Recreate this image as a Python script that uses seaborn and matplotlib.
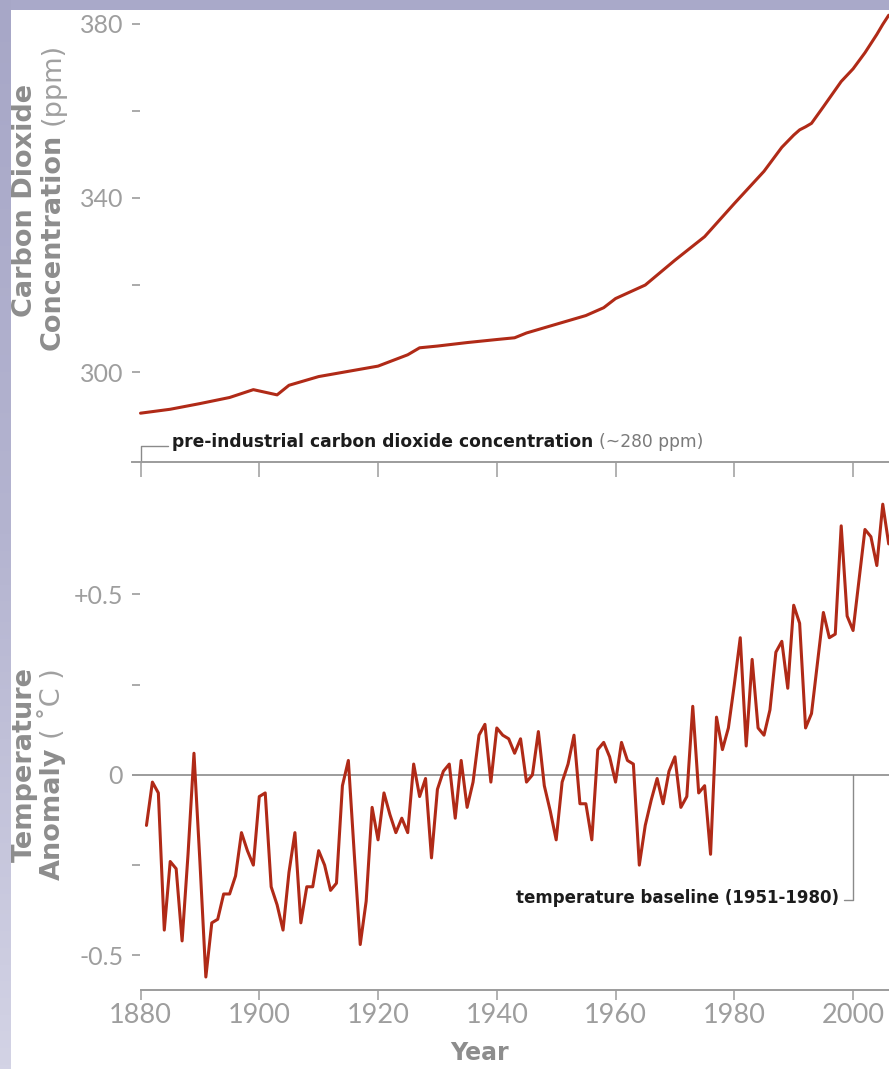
import numpy as np
import pandas as pd
import matplotlib
matplotlib.use("Agg")
import matplotlib.pyplot as plt
from matplotlib.patches import Rectangle
from matplotlib.colors import LinearSegmentedColormap
from matplotlib.ticker import FixedLocator, FixedFormatter, NullFormatter
import seaborn as sns

# --- data ---
co2_years = [1880, 1885, 1890, 1895, 1899, 1903, 1905, 1910, 1915, 1920,
             1925, 1927, 1930, 1935, 1940, 1943, 1945, 1950, 1955, 1958,
             1960, 1965, 1970, 1975, 1980, 1985, 1988, 1990, 1991, 1992,
             1993, 1995, 1998, 2000, 2002, 2004, 2005, 2006]
co2_ppm = [290.6, 291.5, 292.8, 294.2, 296.0, 294.8, 297.0, 299.0, 300.2, 301.4,
           304.0, 305.6, 306.0, 306.8, 307.5, 307.9, 309.0, 311.0, 313.0, 314.8,
           316.9, 320.0, 325.7, 331.1, 338.7, 346.1, 351.6, 354.4, 355.6, 356.3,
           357.1, 360.9, 366.7, 369.6, 373.3, 377.5, 379.8, 381.9]

temp_years = list(range(1881, 2007))
temp_anom = [
    -0.14, -0.02, -0.05, -0.43, -0.24, -0.26, -0.46, -0.22, 0.06, -0.24,   # 1881-1890
    -0.56, -0.41, -0.40, -0.33, -0.33, -0.28, -0.16, -0.21, -0.25, -0.06,  # 1891-1900
    -0.05, -0.31, -0.36, -0.43, -0.27, -0.16, -0.41, -0.31, -0.31, -0.21,  # 1901-1910
    -0.25, -0.32, -0.30, -0.03, 0.04, -0.22, -0.47, -0.35, -0.09, -0.18,   # 1911-1920
    -0.05, -0.11, -0.16, -0.12, -0.16, 0.03, -0.06, -0.01, -0.23, -0.04,   # 1921-1930
    0.01, 0.03, -0.12, 0.04, -0.09, -0.02, 0.11, 0.14, -0.02, 0.13,        # 1931-1940
    0.11, 0.10, 0.06, 0.10, -0.02, 0.00, 0.12, -0.03, -0.10, -0.18,        # 1941-1950
    -0.02, 0.03, 0.11, -0.08, -0.08, -0.18, 0.07, 0.09, 0.05, -0.02,       # 1951-1960
    0.09, 0.04, 0.03, -0.25, -0.14, -0.07, -0.01, -0.08, 0.01, 0.05,       # 1961-1970
    -0.09, -0.06, 0.19, -0.05, -0.03, -0.22, 0.16, 0.07, 0.13, 0.25,       # 1971-1980
    0.38, 0.08, 0.32, 0.13, 0.11, 0.18, 0.34, 0.37, 0.24, 0.47,            # 1981-1990
    0.42, 0.13, 0.17, 0.31, 0.45, 0.38, 0.39, 0.69, 0.44, 0.40,            # 1991-2000
    0.54, 0.68, 0.66, 0.58, 0.75, 0.64,                                    # 2001-2006
]

year_ticks = [1880, 1900, 1920, 1940, 1960, 1980, 2000]
year_labels = ["1880", "1900", "1920", "1940", "1960", "1980", "2000"]
co2_ticks = [300, 340, 380]
co2_labels = ["300", "340", "380"]
co2_minor = [320, 360]
temp_ticks = [-0.5, 0, 0.5]
temp_labels = ["-0.5", "0", "+0.5"]
temp_minor = [-0.25, 0.25]

co2_df = pd.DataFrame({"year": co2_years, "ppm": co2_ppm})
temp_df = pd.DataFrame({"year": temp_years, "anomaly": temp_anom})

sns.set_theme(style="white")
plt.rcParams["font.family"] = ["DejaVu Sans"]

W, H = 889, 1069
LINE = "#b02a17"
GRAY = "#9c9c9c"
LABEL_GRAY = "#8d8d8d"
TICK_FONT = ["Lato", "DejaVu Sans"]


def fx(px):
    return px / W


def fy(py):
    return 1 - py / H


fig = plt.figure(figsize=(W / 100, H / 100), dpi=100, facecolor="#a9a9c9")

# lavender frame: flat band on top, gradient strip on the left
strip = fig.add_axes([0, 0, fx(11), 1])
strip.imshow(np.linspace(0, 1, 256).reshape(-1, 1), aspect="auto",
             cmap=LinearSegmentedColormap.from_list("strip", ["#a7a7c7", "#b4b4d0", "#d3d3e5"]))
strip.axis("off")
fig.add_artist(Rectangle((fx(11), 0), 1, fy(10), transform=fig.transFigure,
                         facecolor="white", edgecolor="none", zorder=-1))

x_left = 1878.48
x_right = 2006.05

ax1 = fig.add_axes([fx(131.5), fy(462), fx(889 - 131.5), (462 - 10) / H])
ax2 = fig.add_axes([fx(131.5), fy(990), fx(889 - 131.5), (990 - 480) / H])

sns.lineplot(data=co2_df, x="year", y="ppm", ax=ax1, color=LINE, linewidth=2.2)
sns.lineplot(data=temp_df, x="year", y="anomaly", ax=ax2, color=LINE, linewidth=2.2)

ax1.set_ylim(279.4, 383.1)
ax2.set_ylim(-0.596, 0.817)

for ax in (ax1, ax2):
    ax.set_facecolor("none")
    ax.set_xlim(x_left, x_right)
    for side in ("top", "right", "left"):
        ax.spines[side].set_visible(False)
    ax.spines["bottom"].set_color(GRAY)
    ax.spines["bottom"].set_linewidth(1.4)
    ax.xaxis.set_major_locator(FixedLocator(year_ticks))
    ax.tick_params(axis="y", which="both", direction="in", length=5.8, width=1.2,
                   color=GRAY, left=True, pad=6, labelsize=18, labelcolor="#9e9e9e")
    ax.set_xlabel("")
    ax.set_ylabel("")

ax1.tick_params(axis="x", direction="out", length=10.5, width=1.1, color=GRAY,
                bottom=True, labelbottom=False)
ax2.tick_params(axis="x", direction="out", length=7.2, width=1.1, color=GRAY,
                bottom=True, pad=2, labelsize=19.5, labelcolor="#9e9e9e")
ax2.xaxis.set_major_formatter(FixedFormatter(year_labels))
ax2.spines["bottom"].set_bounds(1880, x_right)

ax1.yaxis.set_major_locator(FixedLocator(co2_ticks))
ax1.yaxis.set_major_formatter(FixedFormatter(co2_labels))
ax1.yaxis.set_minor_locator(FixedLocator(co2_minor))
ax1.yaxis.set_minor_formatter(NullFormatter())

ax2.yaxis.set_major_locator(FixedLocator(temp_ticks))
ax2.yaxis.set_major_formatter(FixedFormatter(temp_labels))
ax2.yaxis.set_minor_locator(FixedLocator(temp_minor))
ax2.yaxis.set_minor_formatter(NullFormatter())

for ax in (ax1, ax2):
    for lab in ax.get_xticklabels() + ax.get_yticklabels():
        lab.set_family(TICK_FONT)
        lab.set_fontweight("normal")

# zero line and annotations
ax2.axhline(0, color=GRAY, linewidth=1.4, zorder=1)
ax2.plot([2000, 2000, 1998.5], [0, -0.346, -0.346], color="#8a8a8a", linewidth=1.0)
ax2.text(1997.7, -0.341, "temperature baseline (1951-1980)", ha="right", va="center",
         fontsize=12, fontweight="bold", color="#1c1c1c")

ax1.plot([1880, 1880, 1884.6], [279.4, 283.1, 283.1], color="#8a8a8a", linewidth=1.0,
         clip_on=False)
pre = ax1.text(1885.3, 283.9, "pre-industrial carbon dioxide concentration", ha="left",
               va="center", fontsize=12.3, fontweight="bold", color="#1c1c1c")
ax1.annotate("(~280 ppm)", xy=(1, 0), xycoords=pre, xytext=(4, 0),
             textcoords="offset points", ha="left", va="bottom", fontsize=12.3,
             color="#7a7a7a")

# axis titles
fig.text(fx(25), fy(200), "Carbon Dioxide", rotation=90, ha="center", va="center",
         fontsize=19.5, fontweight="bold", color=LABEL_GRAY)
conc = fig.text(fx(53), fy(350), "Concentration", rotation=90, ha="center", va="bottom",
                fontsize=19.5, fontweight="bold", color=LABEL_GRAY)
plt.annotate("(ppm)", xy=(0.5, 1), xycoords=conc, xytext=(0, 6), textcoords="offset points",
             ha="center", va="bottom", rotation=90, fontsize=19.5, color="#a0a0a0",
             annotation_clip=False)

fig.text(fx(25), fy(765), "Temperature", rotation=90, ha="center", va="center",
         fontsize=19.5, fontweight="bold", color=LABEL_GRAY)
anom = fig.text(fx(53), fy(880), "Anomaly", rotation=90, ha="center", va="bottom",
                fontsize=19.5, fontweight="bold", color=LABEL_GRAY)
plt.annotate("( ˚C )", xy=(0.5, 1), xycoords=anom, xytext=(0, 6), textcoords="offset points",
             ha="center", va="bottom", rotation=90, fontsize=19.5, color="#a0a0a0",
             annotation_clip=False)

fig.text(fx(480), fy(1053), "Year", ha="center", va="center", fontsize=17,
         fontweight="bold", color=LABEL_GRAY)

fig.savefig("out.png", dpi=100, facecolor=fig.get_facecolor())
